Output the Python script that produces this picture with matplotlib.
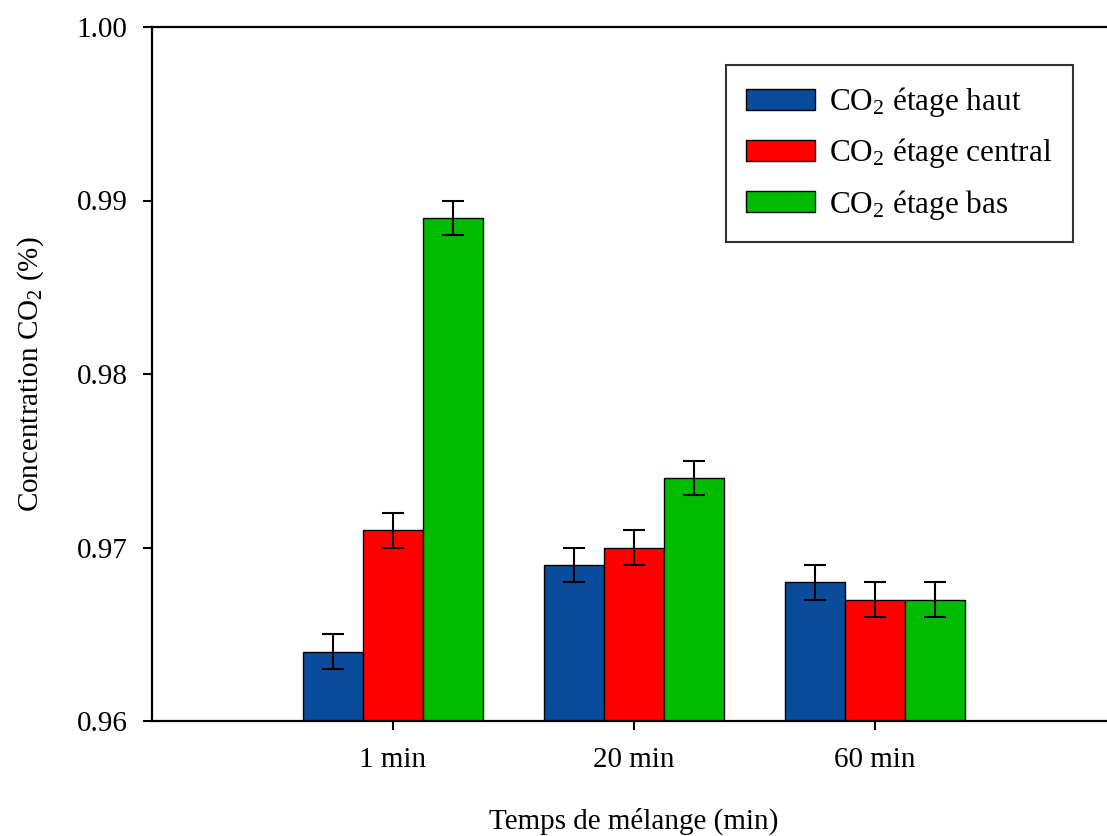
import numpy as np
import matplotlib
matplotlib.use("Agg")
import matplotlib.pyplot as plt

plt.rcParams['font.family'] = ['Liberation Serif', 'DejaVu Serif']
plt.rcParams['mathtext.fontset'] = 'custom'
plt.rcParams['mathtext.rm'] = 'Liberation Serif'
plt.rcParams['mathtext.it'] = 'Liberation Serif:italic'

# data
categories = ["1 min", "20 min", "60 min"]
series_names = ["CO$_2$ étage haut", "CO$_2$ étage central", "CO$_2$ étage bas"]
haut = [0.964, 0.969, 0.968]
central = [0.971, 0.970, 0.967]
bas = [0.989, 0.974, 0.967]
haut_err = [0.001, 0.001, 0.001]
central_err = [0.001, 0.001, 0.001]
bas_err = [0.001, 0.001, 0.001]
yticks = [0.96, 0.97, 0.98, 0.99, 1.00]

colors = ["#0a4c9c", "#ff0000", "#00bb00"]

fig = plt.figure(figsize=(11.07, 8.36), dpi=100)
ax = fig.add_axes([152 / 1107, 1 - 721 / 836, (1116 - 152) / 1107, (721 - 27) / 836])

x = np.arange(1, len(categories) + 1)
w = 0.25
for i, (vals, errs) in enumerate([(haut, haut_err), (central, central_err), (bas, bas_err)]):
    ax.bar(x + (i - 1) * w, np.array(vals) - 0.96, width=w, bottom=0.96,
           color=colors[i], edgecolor="black", linewidth=1.0, label=series_names[i],
           yerr=errs, capsize=8, error_kw=dict(elinewidth=1.5, capthick=1.5, ecolor="black"))

ax.set_xlim(0, 4)
ax.set_ylim(0.96, 1.00)
ax.set_xticks(x)
ax.set_xticklabels(categories)
ax.set_yticks(yticks)
ax.set_yticklabels([f"{v:.2f}" for v in yticks])
ax.tick_params(axis="both", direction="out", length=6.5, width=1.5, labelsize=21)
ax.tick_params(axis="y", pad=11)
ax.tick_params(axis="x", pad=12)
for s in ax.spines.values():
    s.set_linewidth(1.6)
ax.spines["right"].set_visible(False)

ax.set_xlabel("Temps de mélange (min)", fontsize=21, labelpad=25)
ax.set_ylabel("Concentration CO$_2$ (%)", fontsize=21, labelpad=22)

leg = ax.legend(loc="upper left", bbox_to_anchor=(726 / 1107, 1 - 65 / 836),
                bbox_transform=fig.transFigure, fontsize=22.5, frameon=True, fancybox=False,
                edgecolor="black", handlelength=2.2, handleheight=0.65, borderpad=0.65,
                labelspacing=0.55, handletextpad=0.45, borderaxespad=0)
leg.get_frame().set_linewidth(1.5)

fig.savefig("out.png", dpi=100)
